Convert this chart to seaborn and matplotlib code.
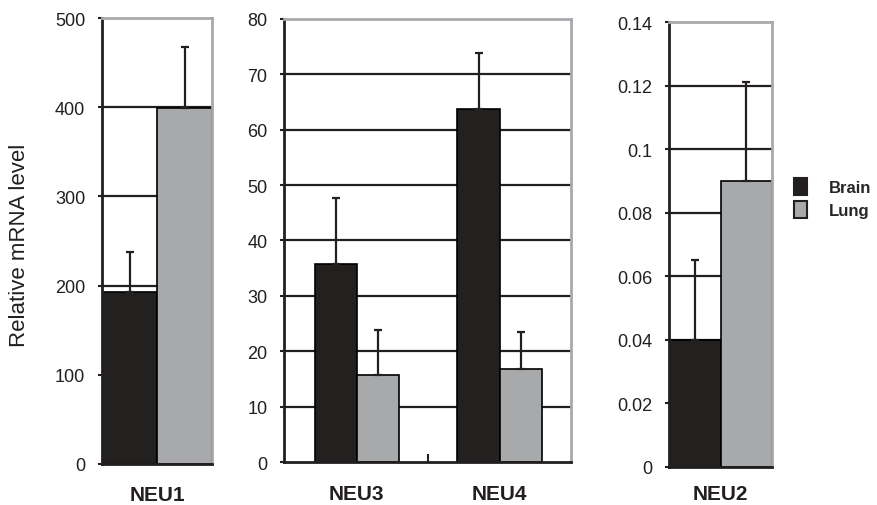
import numpy as np
import pandas as pd
import matplotlib.pyplot as plt
import seaborn as sns
from matplotlib.patches import Patch

# dados
tissues = ['Brain', 'Lung']
genes = ['NEU1', 'NEU3', 'NEU4', 'NEU2']
brain_mean = [193, 35.8, 63.8, 0.040]
lung_mean = [399, 15.7, 16.8, 0.090]
brain_err = [45, 11.9, 10.1, 0.025]
lung_err = [68, 8.1, 6.6, 0.031]

panel_genes = [['NEU1'], ['NEU3', 'NEU4'], ['NEU2']]
panel_ticks = [
    [0, 100, 200, 300, 400, 500],
    [0, 10, 20, 30, 40, 50, 60, 70, 80],
    [0, 0.02, 0.04, 0.06, 0.08, 0.10, 0.12, 0.14],
]
panel_ticklabels = [
    ['0', '100', '200', '300', '400', '500'],
    ['0', '10', '20', '30', '40', '50', '60', '70', '80'],
    ['0', '0.02', '0.04', '0.06', '0.08', '0.1', '0.12', '0.14'],
]

cores = {'Brain': '#231f20', 'Lung': '#a7a9ac'}

df = pd.DataFrame({
    'gene': genes * 2,
    'tissue': ['Brain'] * len(genes) + ['Lung'] * len(genes),
    'value': brain_mean + lung_mean,
    'err': brain_err + lung_err,
})

sns.set_style('white')
plt.rcParams['font.family'] = ['Liberation Sans', 'DejaVu Sans']

fig = plt.figure(figsize=(8.77, 5.06), dpi=100)

# posições dos painéis (em fração da figura)
posicoes = [
    [102 / 877, 1 - 465 / 506, 110 / 877, 446 / 506],
    [284 / 877, 1 - 463 / 506, 287 / 877, 443 / 506],
    [669 / 877, 1 - 468 / 506, 103 / 877, 445 / 506],
]
larguras = [1.0, 0.59, 1.0]
xlims = [(-0.5, 0.5), (-0.51, 1.5), (-0.5, 0.5)]
pads_x = [15, 16, 12]

for i, pg in enumerate(panel_genes):
    ax = fig.add_axes(posicoes[i])
    sub = df[df['gene'].isin(pg)]

    sns.barplot(data=sub, x='gene', y='value', hue='tissue',
                order=pg, hue_order=tissues, palette=cores,
                width=larguras[i], errorbar=None, edgecolor='black',
                linewidth=1.2, legend=False, ax=ax, zorder=2)

    # linhas de grade pretas (atrás das barras)
    for t in panel_ticks[i][1:-1]:
        ax.axhline(t, color='#231f20', lw=1.6, zorder=0.5)

    # barras de erro só para cima
    for cont, tissue in zip(ax.containers, tissues):
        for bar, g in zip(cont, pg):
            linha = sub[(sub['gene'] == g) & (sub['tissue'] == tissue)].iloc[0]
            x = bar.get_x() + bar.get_width() / 2
            ax.errorbar(x, linha['value'], yerr=[[0], [linha['err']]],
                        fmt='none', ecolor='#231f20', elinewidth=1.6,
                        capsize=3, capthick=1.6, zorder=3)

    ax.set_xlim(*xlims[i])
    ax.set_ylim(panel_ticks[i][0], panel_ticks[i][-1])
    ax.set_yticks(panel_ticks[i])
    ax.set_yticklabels(panel_ticklabels[i], fontsize=13, color='#231f20')
    ax.set_xticks(range(len(pg)))
    ax.set_xticklabels(pg, fontsize=15, fontweight='bold', color='#231f20')
    ax.tick_params(axis='y', direction='out', length=3, width=1.5,
                   color='#231f20', left=True, pad=9)
    ax.tick_params(axis='x', length=0, pad=pads_x[i])
    if len(pg) > 1:
        ax.set_xticks([0.5], minor=True)
        ax.tick_params(axis='x', which='minor', direction='in', length=6,
                       width=1.5, color='#231f20', bottom=True)
    ax.set_xlabel('')
    ax.set_ylabel('')

    for lado in ['left', 'bottom']:
        ax.spines[lado].set_color('#231f20')
        ax.spines[lado].set_linewidth(2)
    for lado in ['top', 'right']:
        ax.spines[lado].set_color('#a7a9ac')
        ax.spines[lado].set_linewidth(2)
    for lado in ax.spines:
        ax.spines[lado].set_visible(True)

fig.text(20 / 877, 1 - 245 / 506, 'Relative mRNA level', rotation=90,
         ha='center', va='center', fontsize=16, color='#231f20')

handles = [Patch(facecolor=cores['Brain'], edgecolor=cores['Brain'], linewidth=1.5),
           Patch(facecolor=cores['Lung'], edgecolor='#231f20', linewidth=1.5)]
fig.legend(handles, tissues, loc='upper left',
           bbox_to_anchor=(779 / 877, 1 - 164 / 506), frameon=False,
           prop={'size': 12, 'weight': 'bold'}, handlelength=0.8,
           handleheight=1.2, handletextpad=1.3, labelspacing=0.35)

plt.savefig('out.png', dpi=100)
